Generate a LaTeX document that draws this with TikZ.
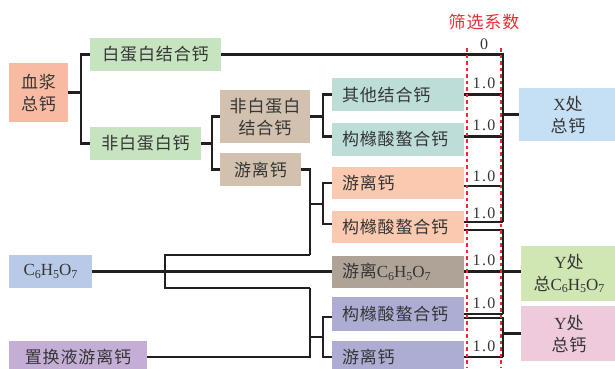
\documentclass[tikz,border=0pt]{standalone}
\usepackage{fontspec}
\setmainfont{Liberation Serif}
\newfontfamily\cjk[LetterSpace=5]{Noto Sans CJK SC}
\newcommand\chemC{C\raisebox{-0.35ex}{\fontsize{12}{12}\selectfont 6}H\raisebox{-0.35ex}{\fontsize{12}{12}\selectfont 5}O\raisebox{-0.35ex}{\fontsize{12}{12}\selectfont 7}}
\newcommand\onezero{1\kern1.3pt.\kern1.3pt0}
\definecolor{txt}{HTML}{363636}
\definecolor{ln}{HTML}{231F20}
\definecolor{cplasma}{HTML}{F8BBA1}
\definecolor{cgreen}{HTML}{C7E4C1}
\definecolor{ctan}{HTML}{D3C1AF}
\definecolor{cteal}{HTML}{BDDDD9}
\definecolor{cpeach}{HTML}{FAC9AF}
\definecolor{cgray}{HTML}{AFA398}
\definecolor{cpurple}{HTML}{ADADD4}
\definecolor{cblue}{HTML}{B8CAE7}
\definecolor{clilac}{HTML}{C4AED6}
\definecolor{cx}{HTML}{C5E0F4}
\definecolor{cy1}{HTML}{D0E6B3}
\definecolor{cy2}{HTML}{EFC9DC}
\definecolor{cred}{HTML}{EE2A35}
\tikzset{
  box/.style={draw=none, inner sep=0pt, minimum height=33pt, text=txt, align=center,
    font=\fontsize{17}{22}\selectfont\cjk},
  mbox/.style={box, font=\fontsize{17}{22}\selectfont},
  rbox/.style={draw=none, inner ysep=0pt, inner xsep=10pt, text width=112pt, align=left,
    minimum height=33pt, text=txt, font=\fontsize{17}{22}\selectfont\cjk},
  conn/.style={draw=ln, line width=2.2pt},
  redline/.style={draw=cred, line width=1.3pt, dash pattern=on 3.5pt off 3pt},
  coef/.style={text=txt, font=\fontsize{16}{16}\selectfont, inner sep=0pt}
}
\begin{document}
\begin{tikzpicture}[x=1pt,y=-1pt]
\useasboundingbox (0,0) rectangle (615,368);
% nodes
\node[box, fill=cplasma, minimum width=59pt, minimum height=59pt] (plasma) at (38.5,92.5) {血浆\\总钙};
\node[box, fill=cgreen, minimum width=131pt] (alb) at (155.5,54.5) {白蛋白结合钙};
\node[box, fill=cgreen, minimum width=111pt] (nonalb) at (145.5,143.5) {非白蛋白钙};
\node[box, fill=ctan, minimum width=90pt, minimum height=53pt] (nab) at (265,116.5) {非白蛋白\\结合钙};
\node[box, fill=ctan, minimum width=81pt] (free1) at (260.5,169.5) {游离钙};
\node[rbox, fill=cteal] (other) at (398,94.5) {其他结合钙};
\node[rbox, fill=cteal] (cit1) at (398,139.5) {构橼酸螯合钙};
\node[rbox, fill=cpeach, minimum height=32pt] (free2) at (398,183) {游离钙};
\node[rbox, fill=cpeach, minimum height=32pt] (cit2) at (398,227) {构橼酸螯合钙};
\node[rbox, fill=cgray, minimum height=32pt, font=\fontsize{17}{22}\selectfont] (citfree) at (398,271.5) {{\cjk 游离}\chemC};
\node[rbox, fill=cpurple, minimum height=34pt] (cit3) at (398,314) {构橼酸螯合钙};
\node[rbox, fill=cpurple, minimum height=32pt] (free3) at (398,357) {游离钙};
\node[mbox, fill=cblue, minimum width=83pt] (cit) at (50.5,271.5) {\chemC};
\node[box, fill=clilac, minimum width=138pt, minimum height=32pt] (repl) at (78,357) {置换液游离钙};
\node[mbox, fill=cx, minimum width=98pt, minimum height=53pt] (X) at (568,114.5) {X{\cjk 处}\\{\cjk 总钙}};
\node[mbox, fill=cy1, minimum width=96pt, minimum height=55pt] (Y1) at (569,273.5) {Y{\cjk 处}\\{\cjk 总}\chemC};
\node[mbox, fill=cy2, minimum width=96pt, minimum height=55pt] (Y2) at (569,333.5) {Y{\cjk 处}\\{\cjk 总钙}};
% left junctions
\coordinate (j1) at (81,92.5);
\coordinate (j2) at (212,143.5);
\coordinate (j3) at (323,116.5);
\coordinate (j5a) at (310,204);
\coordinate (j5) at (323,204);
\coordinate (j6a) at (310,337);
\coordinate (j6) at (323,337);
\coordinate (c1t) at (165,255);
\coordinate (c1b) at (165,288);
\coordinate (m1) at (310,255);
\coordinate (m2) at (310,288);
\draw[conn] (plasma.east) -- (j1);
\draw[conn] (alb.west) -| (j1) |- (nonalb.west);
\draw[conn] (nonalb.east) -- (j2);
\draw[conn] (nab.west) -| (j2) |- (free1.west);
\draw[conn] (nab.east) -- (j3);
\draw[conn] (other.west) -| (j3) |- ([yshift=3pt]cit1.west);
\draw[conn] (free1.east) -| (m1);
\draw[conn] (cit.east) -- (citfree.west);
\draw[conn] (m1) -- (c1t) -- (c1b) -- (m2);
\draw[conn] (repl.east) -| (m2);
\draw[conn] (j5a) -- (j5);
\draw[conn] (free2.west) -| (j5) |- ([yshift=3pt]cit2.west);
\draw[conn] (j6a) -- (j6);
\draw[conn] ([yshift=-3pt]cit3.west) -| (j6) |- (free3.west);
% right buses
\coordinate (xt) at (503,54.5);
\coordinate (xb) at (503,222);
\coordinate (xm) at (503,114.5);
\coordinate (y1t) at (503,230);
\coordinate (y1b) at (503,314);
\coordinate (y2t) at (503,318);
\coordinate (y2b) at (503,357);
\coordinate (y2m) at (503,333.5);
\coordinate (e1) at ([yshift=3pt]cit1.east);
\coordinate (e2) at ([yshift=-3pt]free2.east);
\coordinate (e3) at ([yshift=5pt]cit2.east);
\coordinate (e4) at ([yshift=-3pt]cit2.east);
\coordinate (e5) at ([yshift=-4pt]cit3.east);
\draw[conn] (alb.east) -- (xt) -- (xb);
\draw[conn] (other.east) -- (other.east -| xt);
\draw[conn] (e1) -- (e1 -| xt);
\draw[conn] (e2) -- (e2 -| xt);
\draw[conn] (e3) -- (e3 -| xt);
\draw[conn] (xm) -- (X.west);
\draw[conn] (e4) -- (y1t) -- (y1b);
\draw[conn] (cit3.east) -- (y1b);
\draw[conn] (citfree.east) -- (citfree.east -| Y1.west);
\draw[conn] (e5) -- (y2t) -- (y2b);
\draw[conn] (free3.east) -- (y2b);
\draw[conn] (y2m) -- (Y2.west);
% red dashed lines
\coordinate (r1t) at (467,48);
\coordinate (r1b) at (467,368);
\coordinate (r2t) at (501,48);
\coordinate (r2b) at (501,368);
\draw[redline] (r1t) -- (r1b);
\draw[redline] (r2t) -- (r2b);
% labels
\node[text=cred, font=\fontsize{17}{17}\selectfont\cjk, inner sep=0pt] (title) at (484,22) {筛选系数};
\node[coef] (k0) at (484,44) {0};
\node[coef] (k1) at (484,83) {\onezero};
\node[coef] (k2) at (484,125) {\onezero};
\node[coef] (k3) at (484,176) {\onezero};
\node[coef] (k4) at (484,213) {\onezero};
\node[coef] (k5) at (484,260) {\onezero};
\node[coef] (k6) at (484,303) {\onezero};
\node[coef] (k7) at (484,346) {\onezero};
\end{tikzpicture}
\end{document}
